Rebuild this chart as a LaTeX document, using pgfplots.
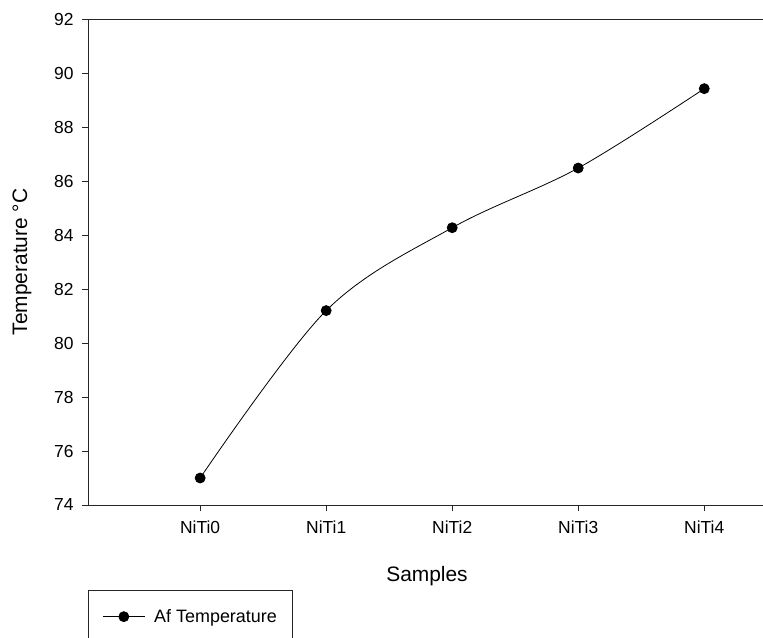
\documentclass[border=0pt]{standalone}
\usepackage{pgfplots}
\pgfplotsset{compat=1.18}
\usepackage{fontspec}
\setmainfont{Liberation Sans}
\begin{document}
\begin{tikzpicture}
\begin{axis}[
  at={(0,0)}, anchor=south west,
  scale only axis,
  width=678bp, height=486bp,
  xmin=-0.89, xmax=4.49,
  ymin=74, ymax=92,
  ytick={74,76,...,92},
  xtick={0,1,2,3,4},
  xticklabels={NiTi0,NiTi1,NiTi2,NiTi3,NiTi4},
  xtick pos=bottom, ytick pos=left,
  tick align=outside,
  major tick length=6bp,
  axis line style={line width=0.9bp, black!85},
  every tick/.style={line width=0.9bp, black!85},
  /pgf/number format/assume math mode=true,
  ticklabel style={font=\fontsize{17.5}{20}\selectfont},
  xticklabel style={yshift=-6bp},
  yticklabel style={xshift=-5bp},
  xlabel={Samples},
  ylabel={Temperature °C},
  label style={font=\fontsize{21}{24}\selectfont},
  xlabel style={at={(axis description cs:0.5,-0.146)}, anchor=center},
  ylabel style={at={(axis description cs:-0.0973,0.5)}, anchor=center},
  legend style={at={(0,0)}, anchor=north west, yshift=-85bp,
    draw=black!85, line width=0.9bp,
    font=\fontsize{18}{21}\selectfont,
    inner xsep=14bp, inner ysep=17bp},
  legend cell align=left,
  legend image code/.code={
    \draw[#1, mark repeat=2, mark phase=2] plot coordinates {(0bp,0bp) (21bp,0bp) (42bp,0bp)};
  },
]
\addplot[black, line width=0.8bp, smooth, tension=0.55,
  mark=*, mark size=5bp, mark options={fill=black, solid}]
  coordinates {(0,75.0) (1,81.2) (2,84.27) (3,86.48) (4,89.42)};
\addlegendentry{\hspace{7bp}Af Temperature}
\end{axis}
\pgfresetboundingbox
\useasboundingbox (-88bp,-133bp) rectangle (675bp,505bp);
\end{tikzpicture}
\end{document}
